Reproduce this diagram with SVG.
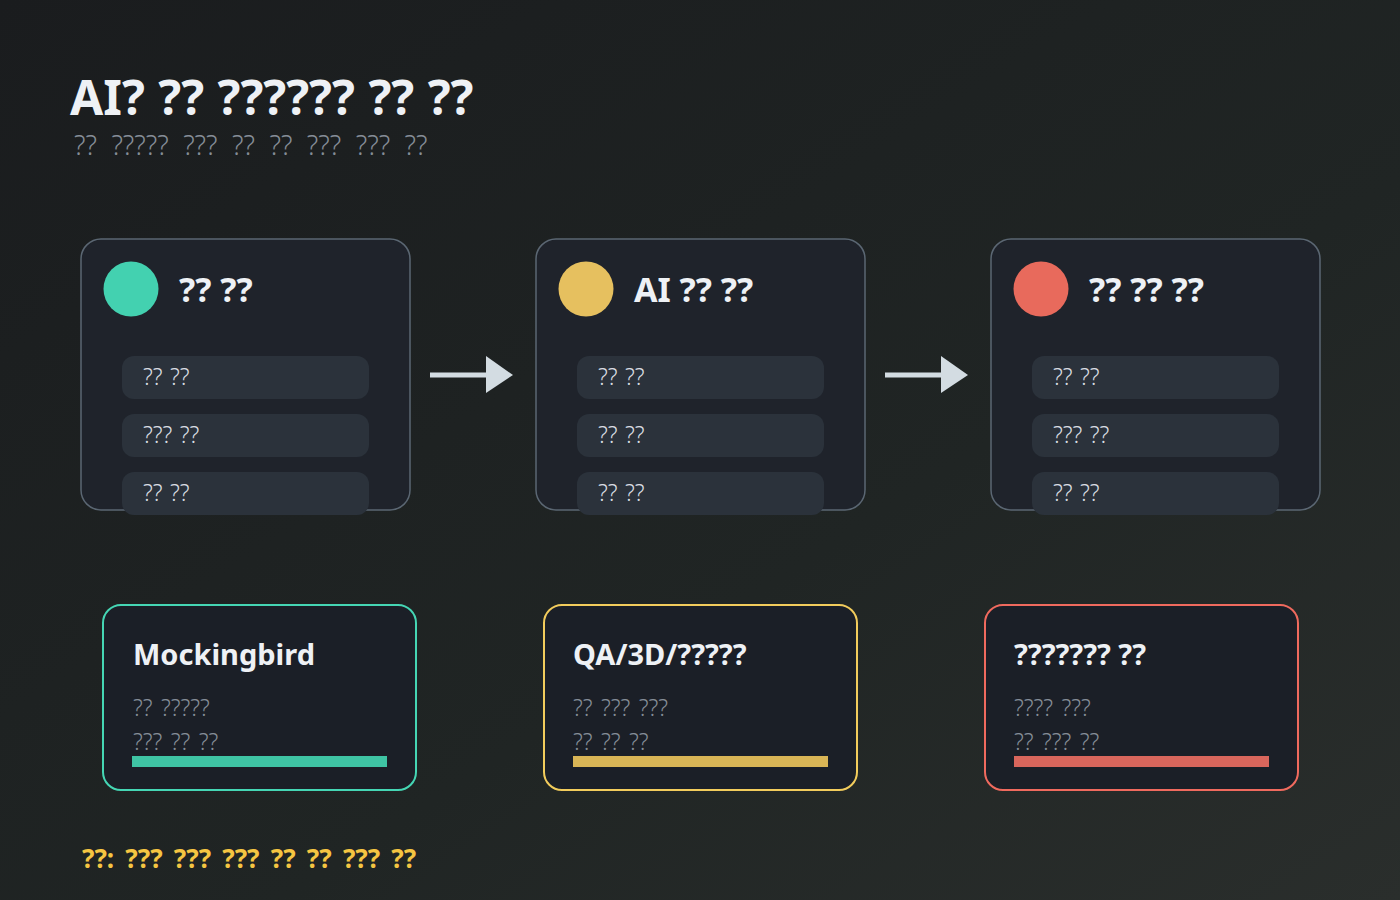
<svg xmlns="http://www.w3.org/2000/svg" width="1400" height="900" viewBox="0 0 1400 900">
<defs>
<linearGradient id="bg" x1="0" y1="0" x2="1" y2="1">
<stop offset="0" stop-color="#1a1c1e"/>
<stop offset="0.6" stop-color="#202524"/>
<stop offset="1" stop-color="#2a2e2c"/>
</linearGradient>
<style>
.title{font-family:"Noto Sans",sans-serif;font-weight:700;font-size:48px;fill:#eef1f5;word-spacing:1px}
.sub{font-family:"Noto Sans",sans-serif;font-weight:300;font-size:27px;fill:#858d97;word-spacing:7.5px}
.card{fill:#1f232b;stroke:#5b6773;stroke-width:1.5}
.head{font-family:"Noto Sans",sans-serif;font-weight:700;font-size:34px;fill:#eef1f5}
.row{fill:#2b323b}
.rowt{font-family:"Noto Sans",sans-serif;font-weight:300;font-size:23px;fill:#d9dde2;word-spacing:1.5px}
.arrow{stroke:#d3dce2;stroke-width:5;fill:none}
.ah{fill:#d3dce2}
.bcard{fill:#1b1f27;stroke-width:2}
.btitle{font-family:"Noto Sans",sans-serif;font-weight:700;font-size:29px;fill:#eef1f5}
.bt{font-family:"Noto Sans",sans-serif;font-weight:300;font-size:23px;fill:#858d97;word-spacing:2.5px}
.foot{font-family:"Noto Sans",sans-serif;font-weight:700;font-size:26px;fill:#f5c542;word-spacing:4.5px}
</style>
</defs>
<rect width="1400" height="900" fill="url(#bg)"/>
<g id="header">
<text class="title" x="70" y="115">AI? ?? ?????? ?? ??</text>
<text class="sub" x="74" y="155">?? ????? ??? ?? ?? ??? ??? ??</text>
</g>
<g id="connectors">
<line class="arrow" x1="430" y1="375" x2="495" y2="375"/>
<polygon class="ah" points="486,356 513,375 486,393"/>
<line class="arrow" x1="885" y1="375" x2="950" y2="375"/>
<polygon class="ah" points="941,356 968,375 941,393"/>
</g>
<g id="stage1">
<rect class="card" x="81" y="239" width="329" height="271" rx="20"/>
<circle cx="131" cy="289" r="27.5" fill="#43d1b0"/>
<text class="head" x="179" y="302">?? ??</text>
<rect class="row" x="122" y="356" width="247" height="43" rx="12"/>
<text class="rowt" x="143" y="385">?? ??</text>
<rect class="row" x="122" y="414" width="247" height="43" rx="12"/>
<text class="rowt" x="143" y="443">??? ??</text>
<rect class="row" x="122" y="472" width="247" height="43" rx="12"/>
<text class="rowt" x="143" y="501">?? ??</text>
</g>
<g id="stage2">
<rect class="card" x="536" y="239" width="329" height="271" rx="20"/>
<circle cx="586" cy="289" r="27.5" fill="#e6c05f"/>
<text class="head" x="634" y="302">AI ?? ??</text>
<rect class="row" x="577" y="356" width="247" height="43" rx="12"/>
<text class="rowt" x="598" y="385">?? ??</text>
<rect class="row" x="577" y="414" width="247" height="43" rx="12"/>
<text class="rowt" x="598" y="443">?? ??</text>
<rect class="row" x="577" y="472" width="247" height="43" rx="12"/>
<text class="rowt" x="598" y="501">?? ??</text>
</g>
<g id="stage3">
<rect class="card" x="991" y="239" width="329" height="271" rx="20"/>
<circle cx="1041" cy="289" r="27.5" fill="#e86a5c"/>
<text class="head" x="1089" y="302">?? ?? ??</text>
<rect class="row" x="1032" y="356" width="247" height="43" rx="12"/>
<text class="rowt" x="1053" y="385">?? ??</text>
<rect class="row" x="1032" y="414" width="247" height="43" rx="12"/>
<text class="rowt" x="1053" y="443">??? ??</text>
<rect class="row" x="1032" y="472" width="247" height="43" rx="12"/>
<text class="rowt" x="1053" y="501">?? ??</text>
</g>
<g id="tool1">
<rect class="bcard" x="103" y="605" width="313" height="185" rx="18" stroke="#45d6b4"/>
<text class="btitle" x="133" y="665">Mockingbird</text>
<text class="bt" x="133" y="716">?? ?????</text>
<text class="bt" x="133" y="750">??? ?? ??</text>
<rect x="132" y="756" width="255" height="11" fill="#3fc4a4"/>
</g>
<g id="tool2">
<rect class="bcard" x="544" y="605" width="313" height="185" rx="18" stroke="#f2cc5c"/>
<text class="btitle" x="573" y="665">QA/3D/?????</text>
<text class="bt" x="573" y="716">?? ??? ???</text>
<text class="bt" x="573" y="750">?? ?? ??</text>
<rect x="573" y="756" width="255" height="11" fill="#d9b556"/>
</g>
<g id="tool3">
<rect class="bcard" x="985" y="605" width="313" height="185" rx="18" stroke="#f06a5e"/>
<text class="btitle" x="1014" y="665">??????? ??</text>
<text class="bt" x="1014" y="716">???? ???</text>
<text class="bt" x="1014" y="750">?? ??? ??</text>
<rect x="1014" y="756" width="255" height="11" fill="#d9665c"/>
</g>
<g id="footer">
<text class="foot" x="82" y="868">??: ??? ??? ??? ?? ?? ??? ??</text>
</g>
</svg>
